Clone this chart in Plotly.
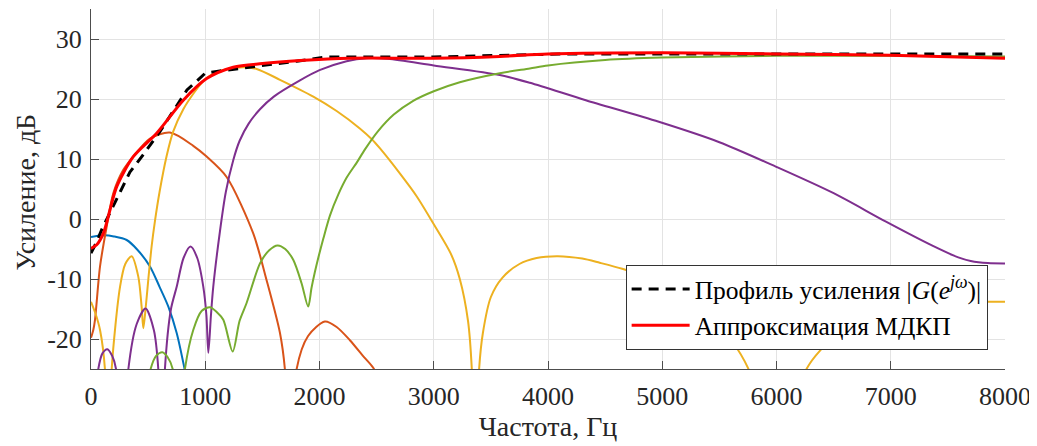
import plotly.graph_objects as go

# ---------------- data ----------------
blue_f = [0, 60, 120, 200, 312, 400, 516, 600, 677, 750, 817, 870]
blue_db = [-3.0, -2.8, -2.7, -2.9, -3.5, -5.0, -7.9, -11.3, -14.6, -19.0, -24.8, -30]

orange_f = [0, 20, 35, 79, 137, 195, 283, 370, 516, 691, 895, 1012, 1187, 1420, 1537,
            1654, 1697, 1745, 1800, 1900, 2047, 2150, 2266, 2380, 2470, 2550]
orange_db = [-19.8, -18.5, -16.8, -7.9, -1.3, 4.3, 8.2, 10.4, 13.4, 14.4, 12.2, 10.4, 7.0, -2.4, -10.2,
             -19.0, -25.0, -45, -25.0, -19.5, -17.1, -18.0, -20.2, -22.8, -24.8, -28]

yellow_f = [0, 40, 79, 122, 150, 181, 254, 300, 356, 414, 443, 458, 480, 502, 531, 560, 600,
            662, 720, 808, 900, 983, 1050, 1150, 1333, 1450, 1654, 1946, 2150, 2353, 2458, 2528,
            2703, 2850, 2995, 3150, 3228, 3300, 3333, 3362, 3397, 3430, 3500, 3600, 3750, 3900,
            4086, 4300, 4453, 4650, 4847, 5050, 5250, 5450, 5600, 5750, 5880, 6020, 6150, 6263,
            6387, 6550, 6800, 7100, 7400, 7700, 7840, 8000]
yellow_db = [-13.8, -15.8, -18.5, -25.0, -45, -25.0, -11.3, -7.5, -6.2, -9.6, -14.6, -18.2, -14.5, -10.0, -4.5, -0.3, 4.5,
             10.5, 14.6, 18.3, 21.0, 23.0, 24.0, 24.8, 25.3, 25.0, 23.2, 20.4, 18.0, 15.1, 13.3, 11.8,
             7.6, 3.8, -0.7, -5.8, -10.0, -17.0, -25.0, -45, -25.0, -19.0, -13.0, -9.8, -7.5, -6.5,
             -6.2, -6.6, -7.3, -8.3, -9.6, -11.3, -13.5, -16.5, -20.0, -24.8, -32, -45, -32, -25.0,
             -21.8, -19.0, -16.5, -15.0, -14.3, -13.9, -13.8, -13.8]

purple_f = [0, 40, 64, 100, 143, 185, 219, 265, 327, 400, 478, 550, 589, 618, 647, 700, 750,
            810, 871, 930, 983, 1010, 1027, 1050, 1070, 1129, 1180, 1245, 1300, 1380, 1479, 1600,
            1829, 2000, 2237, 2412, 2600, 3000, 3578, 3841, 4331, 4970, 5500, 5998, 6500, 6954,
            7360, 7591, 7700, 7850, 8000]
purple_db = [-40, -30, -25.0, -22.4, -21.7, -22.8, -25.0, -45, -25.0, -17.5, -14.9, -18.5, -25.0, -45, -25.0, -15.0, -11.3,
             -6.5, -4.6, -6.5, -11.3, -16.0, -22.3, -16.0, -11.3, -2.0, 4.5, 9.8, 13.0, 15.9, 18.3, 20.4,
             23.1, 24.8, 26.3, 26.8, 26.7, 25.6, 24.0, 22.7, 19.8, 16.2, 12.8, 8.7, 4.3, -0.4,
             -4.4, -6.4, -7.0, -7.35, -7.4]

green_f = [450, 522, 570, 624, 670, 715, 770, 822, 895, 970, 1041, 1100, 1158, 1240, 1300,
           1362, 1479, 1560, 1633, 1700, 1770, 1843, 1901, 1930, 1960, 1990, 2033, 2092, 2165,
           2238, 2326, 2398, 2511, 2650, 2820, 3000, 3228, 3578, 3841, 4000, 4500, 4992, 6000,
           7000, 8000]
green_db = [-35, -25.0, -22.8, -22.2, -23.0, -25.0, -35, -25.0, -18.5, -15.3, -14.7, -15.5, -16.8, -22.1, -17.0,
            -14.0, -7.4, -5.2, -4.4, -5.0, -6.8, -10.7, -14.6, -11.5, -8.8, -6.4, -3.3, 0.6, 4.1,
            6.9, 9.4, 11.6, 14.6, 17.4, 19.7, 21.3, 22.8, 24.3, 25.1, 25.6, 26.5, 26.9, 27.2,
            27.2, 27.1]

target_f = [0, 50, 100, 166, 200, 340, 460, 604, 840, 1000, 1100, 1400, 1800, 2062, 3000, 4100, 8000]
target_db = [-5.7, -3.8, -1.5, 1.0, 2.3, 7.8, 10.8, 14.6, 21.5, 24.3, 24.6, 25.3, 26.3, 27.0, 27.0, 27.5, 27.5]

approx_f = [0, 50, 108, 166, 225, 370, 575, 808, 1012, 1245, 1500, 1829, 2266, 3000, 3578,
            4000, 5000, 6000, 7000, 8000]
approx_db = [-4.9, -4.3, -2.4, 1.5, 5.4, 10.4, 14.3, 19.8, 23.4, 25.3, 25.9, 26.4, 26.8, 26.8, 27.1,
             27.5, 27.7, 27.5, 27.3, 26.8]

x_ticks = [0, 1000, 2000, 3000, 4000, 5000, 6000, 7000, 8000]
x_ticktext = ["0", "1000", "2000", "3000", "4000", "5000", "6000", "7000", "8000"]
y_ticks = [-20, -10, 0, 10, 20, 30]
y_ticktext = ["-20", "-10", "0", "10", "20", "30"]

legend_names = ["Профиль усиления |<i>G</i>(<i>e</i><sup><i>jω</i></sup>)|",
                "Аппроксимация МДКП"]
x_title = "Частота, Гц"
y_title = "Усиление, дБ"

# ---------------- figure ----------------
FONT = "Liberation Serif, Times New Roman, serif"
fig = go.Figure()

colored = [
    (blue_f, blue_db, "#0072BD"),
    (orange_f, orange_db, "#D95319"),
    (yellow_f, yellow_db, "#EDB120"),
    (purple_f, purple_db, "#7E2F8E"),
    (green_f, green_db, "#77AC30"),
]
for f, d, c in colored:
    fig.add_trace(go.Scatter(x=f, y=d, mode="lines", showlegend=False,
                             line=dict(color=c, width=2, shape="spline", smoothing=0.8),
                             hoverinfo="skip"))

fig.add_trace(go.Scatter(x=target_f, y=target_db, mode="lines", name=legend_names[0],
                         line=dict(color="black", width=3, dash="10px,7px")))
fig.add_trace(go.Scatter(x=approx_f, y=approx_db, mode="lines", name=legend_names[1],
                         line=dict(color="#FF0000", width=3, shape="spline", smoothing=0.8)))

axis_common = dict(showgrid=True, gridcolor="#e3e3e3", gridwidth=1,
                   showline=True, linecolor="#4d4d4d", linewidth=1,
                   ticks="inside", ticklen=8, tickcolor="#4d4d4d",
                   zeroline=False, automargin=False, mirror=False,
                   tickfont=dict(family=FONT, size=26, color="#262626"))

# the page body adds an 8 px offset; the figure is sized to fit the window
fig.update_layout(
    width=1029, height=438,
    template="none",
    paper_bgcolor="white", plot_bgcolor="white",
    margin=dict(l=83, r=32, t=1, b=77),
    font=dict(family=FONT, color="#262626"),
    xaxis=dict(range=[0, 8000], tickvals=x_ticks, ticktext=x_ticktext, ticklabelstandoff=4,
               title=dict(text=x_title, font=dict(family=FONT, size=28), standoff=4),
               **axis_common),
    yaxis=dict(range=[-25, 35], tickvals=y_ticks, ticktext=y_ticktext, ticklabelstandoff=3,
               **axis_common),
    legend=dict(x=0.981, y=0.053, xanchor="right", yanchor="bottom",
                bgcolor="white", bordercolor="#333333", borderwidth=1,
                font=dict(family=FONT, size=25.5, color="black"),
                itemwidth=58, tracegroupgap=0),
    annotations=[dict(text=y_title, textangle=-90, showarrow=False,
                      xref="paper", yref="paper", x=-0.072, y=0.49,
                      xanchor="center", yanchor="middle",
                      font=dict(family=FONT, size=28, color="#262626"))],
)

fig.write_html("out.html")
